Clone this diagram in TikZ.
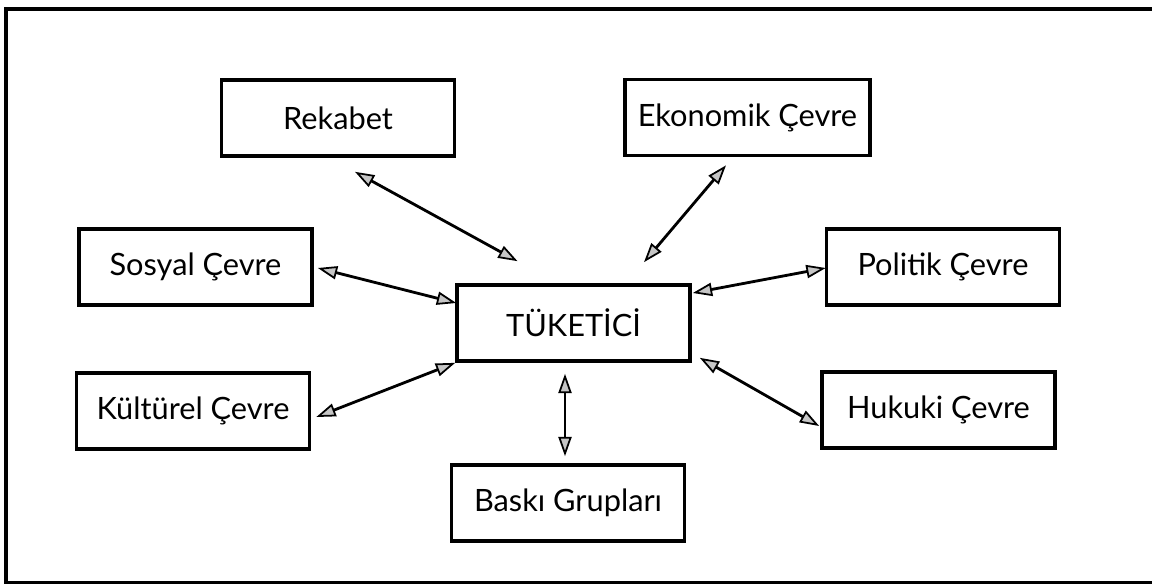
\documentclass[tikz,border=0pt]{standalone}
\usepackage{fontspec}
\setmainfont{Lato}
\usetikzlibrary{arrows.meta,positioning,calc}

\begin{document}
\begin{tikzpicture}[
    x=0.02cm, y=-0.02cm,
    factor/.style={rectangle, draw=black, line width=2.1pt, minimum width=4.66cm, minimum height=1.52cm, inner sep=0pt, font=\fontsize{17.5}{20}\selectfont},
    tip/.tip={Triangle[length=11pt, width=7.5pt, fill=gray!45, line width=1pt]},
    link/.style={line width=1.6pt, tip-tip}
]
    \useasboundingbox (0,0) rectangle (1152,584);

    % Frame
    \draw[line width=2pt] (1152,9) -- (6,9) -- (6,583) -- (1152,583);

    % Factors
    \node[factor] (tuketici) at (573.5,323) {TÜKETİCİ};
    \node[factor] (rekabet) at (338,118) {Rekabet};
    \node[factor, minimum width=4.9cm] (ekonomik) at (747.5,117.5) {Ekonomik Çevre};
    \node[factor] (sosyal) at (195.5,267) {Sosyal Çevre};
    \node[factor] (politik) at (943,267) {Politik Çevre};
    \node[factor] (kulturel) at (193,411) {Kültürel Çevre};
    \node[factor] (hukuki) at (938.5,410) {Hukuki Çevre};
    \node[factor] (baski) at (568,503) {Baskı Grupları};

    % Links
    \draw[link] ($(rekabet.south)+(17,14)$) -- ($(tuketici.north)+(-56,-22)$);
    \draw[link] ($(ekonomik.south)+(-21.5,8)$) -- ($(tuketici.north)+(70.5,-21)$);
    \draw[link] ($(sosyal.east)+(4,1)$) -- ($(tuketici.west)+(1,-20)$);
    \draw[link] ($(politik.west)+(1,1)$) -- ($(tuketici.east)+(1,-30)$);
    \draw[link] ($(kulturel.east)+(5,6)$) -- (tuketici.south west);
    \draw[link] ($(hukuki.west)+(-1,16)$) -- ($(tuketici.south east)+(8,-5)$);
    \draw[link] ($(tuketici.south)+(-8.5,11)$) -- ($(baski.north)+(-3,-7)$);
\end{tikzpicture}
\end{document}
